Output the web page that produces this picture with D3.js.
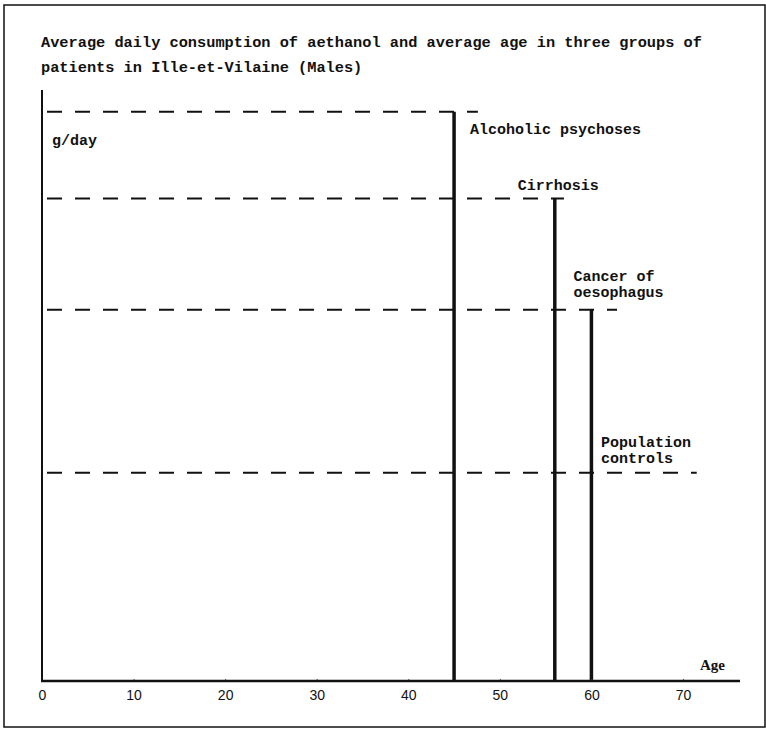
<!DOCTYPE html>
<html>
<head>
<meta charset="utf-8">
<script src="https://cdn.jsdelivr.net/npm/d3@7"></script>
<style>
  html, body { margin: 0; padding: 0; background: #fff; }
  svg { display: block; }
</style>
</head>
<body>
<svg id="chart" width="766" height="729"></svg>
<script>
// ---- data ----
const titleLines = [
  "Average daily consumption of aethanol and average age in three groups of",
  "patients in Ille-et-Vilaine (Males)"
];
const groups = ["Alcoholic psychoses", "Cirrhosis", "Cancer of oesophagus", "Population controls"];
const labelLines = [["Alcoholic psychoses"], ["Cirrhosis"], ["Cancer of", "oesophagus"], ["Population", "controls"]];
const consumption = [164, 139, 107, 60];        // g/day (unscaled in original)
const averageAge = [45, 56, 60, null];            // years; controls have no age bar
const dashEndAge = [47.6, 57.0, 62.8, 71.5];      // extent of dashed reference lines
const xTicks = [0, 10, 20, 30, 40, 50, 60, 70];

// ---- layout ----
const svg = d3.select("#chart");
const x = d3.scaleLinear().domain([0, 70]).range([42, 683]);
const y = d3.scaleLinear().domain([0, 170]).range([681, 91]);
const mono = "'Liberation Mono', 'DejaVu Sans Mono', monospace";

// outer frame
svg.append("rect").attr("x", 4).attr("y", 5).attr("width", 761).attr("height", 722)
  .attr("fill", "none").attr("stroke", "#111").attr("stroke-width", 1.5);

// title
svg.append("g").selectAll("text").data(titleLines).join("text")
  .attr("x", 41).attr("y", (d, i) => 47 + i * 25)
  .attr("font-family", mono).attr("font-weight", "bold").attr("font-size", 15.3)
  .attr("fill", "#111").text(d => d);

// dashed consumption lines
svg.append("g").selectAll("line").data(consumption).join("line")
  .attr("x1", x(0) + 5).attr("x2", (d, i) => x(dashEndAge[i]))
  .attr("y1", d => y(d)).attr("y2", d => y(d))
  .attr("stroke", "#111").attr("stroke-width", 2)
  .attr("stroke-dasharray", "15,13");

// vertical age lines
const ageData = consumption.map((c, i) => ({c, a: averageAge[i]})).filter(d => d.a != null);
svg.append("g").selectAll("line").data(ageData).join("line")
  .attr("x1", d => x(d.a)).attr("x2", d => x(d.a))
  .attr("y1", d => y(d.c)).attr("y2", y(0))
  .attr("stroke", "#111").attr("stroke-width", 3.5);

// axes
const xAxis = d3.axisBottom(x).tickValues(xTicks).tickSize(-2).tickPadding(9).tickFormat(d3.format("d"));
const gx = svg.append("g").attr("transform", `translate(0,${y(0)})`).call(xAxis);
gx.select(".domain").remove();
gx.selectAll(".tick line").attr("stroke", "#555").attr("stroke-width", 1);
gx.selectAll(".tick text").attr("font-family", "'Liberation Sans', Arial, sans-serif")
  .attr("font-size", 14).attr("fill", "#111");
svg.append("line").attr("x1", x(0) - 1).attr("x2", 740).attr("y1", y(0)).attr("y2", y(0))
  .attr("stroke", "#111").attr("stroke-width", 2.5);
svg.append("line").attr("x1", x(0)).attr("x2", x(0)).attr("y1", 90).attr("y2", y(0) + 1)
  .attr("stroke", "#111").attr("stroke-width", 2);

// axis titles
svg.append("text").attr("x", 52).attr("y", 145)
  .attr("font-family", mono).attr("font-weight", "bold").attr("font-size", 15)
  .attr("fill", "#111").text("g/day");
svg.append("text").attr("x", 700).attr("y", 670)
  .attr("font-family", "'Liberation Serif', 'Times New Roman', serif").attr("font-weight", "bold")
  .attr("font-size", 15).attr("fill", "#111").text("Age");

// group labels
const labelPos = [
  {dx: 16, dy: 22},   // relative to (age, consumption)
  {dx: -37, dy: -9},
  {dx: -18, dy: -29},
  {dx: 0, dy: -26}
];
const labelAnchorAge = [45, 56, 60, 60];
const lg = svg.append("g");
groups.forEach((g, i) => {
  const t = lg.append("text")
    .attr("font-family", mono).attr("font-weight", "bold").attr("font-size", 15)
    .attr("fill", "#111");
  const bx = x(labelAnchorAge[i]) + labelPos[i].dx;
  const by = y(consumption[i]) + labelPos[i].dy;
  labelLines[i].forEach((ln, j) => {
    t.append("tspan").attr("x", i === 3 ? 601 : bx).attr("y", by + j * 16).text(ln);
  });
});
</script>
</body>
</html>
